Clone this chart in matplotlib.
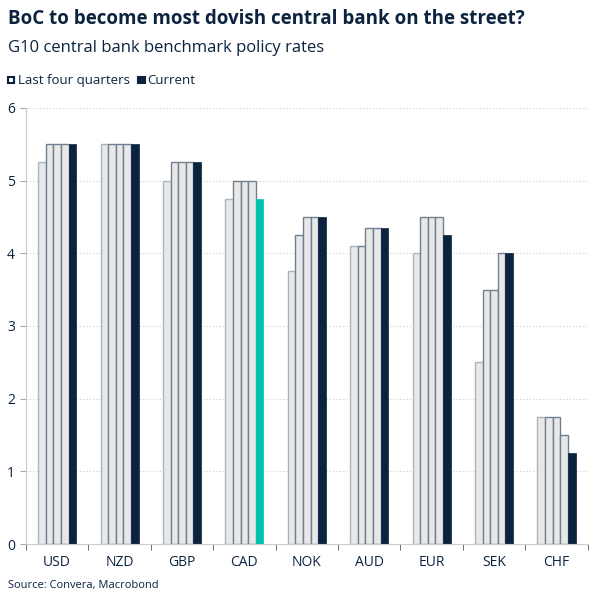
import matplotlib
matplotlib.use("Agg")
import matplotlib.pyplot as plt
import matplotlib.patches as mpatches
import numpy as np

# G10 policy rates: four previous quarters + current
currencies = ["USD", "NZD", "GBP", "CAD", "NOK", "AUD", "EUR", "SEK", "CHF"]
q1 = [5.25, 5.50, 5.00, 4.75, 3.75, 4.10, 4.00, 2.50, 1.75]
q2 = [5.50, 5.50, 5.25, 5.00, 4.25, 4.10, 4.50, 3.50, 1.75]
q3 = [5.50, 5.50, 5.25, 5.00, 4.50, 4.35, 4.50, 3.50, 1.75]
q4 = [5.50, 5.50, 5.25, 5.00, 4.50, 4.35, 4.50, 4.00, 1.50]
current = [5.50, 5.50, 5.25, 4.75, 4.50, 4.35, 4.25, 4.00, 1.25]

navy = "#0c2340"
teal = "#00c2b0"
light = "#e8e8e8"
edge = "#6f8191"
plt.rcParams["font.family"] = ["Open Sans", "DejaVu Sans"]

fig = plt.figure(figsize=(6.04, 6.04), dpi=100)
ax = fig.add_axes([0.043, 0.0993, 0.930, 0.722])

x = np.arange(len(currencies))
w = 0.122
quarters = [q1, q2, q3, q4]
for i, q in enumerate(quarters):
    ec = "#aab5bf" if i == 0 else edge
    ax.bar(x + (i - 2) * w, q, width=w, color=light, edgecolor=ec, linewidth=1, zorder=2)
cur_colors = [teal if c == "CAD" else navy for c in currencies]
ax.bar(x + 2 * w, current, width=w, color=cur_colors, edgecolor=cur_colors, linewidth=0.5, zorder=2)

ax.set_xlim(-0.5, len(currencies) - 0.5)
ax.set_ylim(0, 6)
ax.set_yticks(range(7))
ax.tick_params(axis="y", length=4, color="#aaaaaa", labelsize=10, labelcolor=navy, pad=4)
ax.set_xticks(x)
ax.set_xticklabels(currencies)
ax.tick_params(axis="x", length=0, labelsize=10, labelcolor=navy, pad=8)
ax.set_xticks(np.arange(-0.5, len(currencies), 1), minor=True)
ax.tick_params(axis="x", which="minor", length=4, color="#555555")
ax.grid(axis="y", linestyle=(0, (1, 2)), color="#cccccc", linewidth=0.8, zorder=0)
for s in ["top", "right"]:
    ax.spines[s].set_visible(False)
ax.spines["left"].set_color("#cccccc")
ax.spines["bottom"].set_color("#cccccc")

fig.text(0.013, 0.968, "BoC to become most dovish central bank on the street?",
         fontsize=13.5, fontweight="bold", color=navy, va="center")
fig.text(0.013, 0.921, "G10 central bank benchmark policy rates",
         fontsize=12, color=navy, va="center")

# legend
fig.patches.append(mpatches.Rectangle((0.013, 0.862), 0.011, 0.011, transform=fig.transFigure,
                                      facecolor="white", edgecolor=navy, linewidth=1.5))
fig.text(0.030, 0.867, "Last four quarters", fontsize=9.5, color=navy, va="center")
fig.patches.append(mpatches.Rectangle((0.229, 0.862), 0.011, 0.011, transform=fig.transFigure,
                                      facecolor=navy, edgecolor=navy, linewidth=1.5))
fig.text(0.243, 0.867, "Current", fontsize=9.5, color=navy, va="center")

fig.text(0.013, 0.031, "Source: Convera, Macrobond", fontsize=8, color=navy, va="center")

fig.savefig("out.png", dpi=100)
